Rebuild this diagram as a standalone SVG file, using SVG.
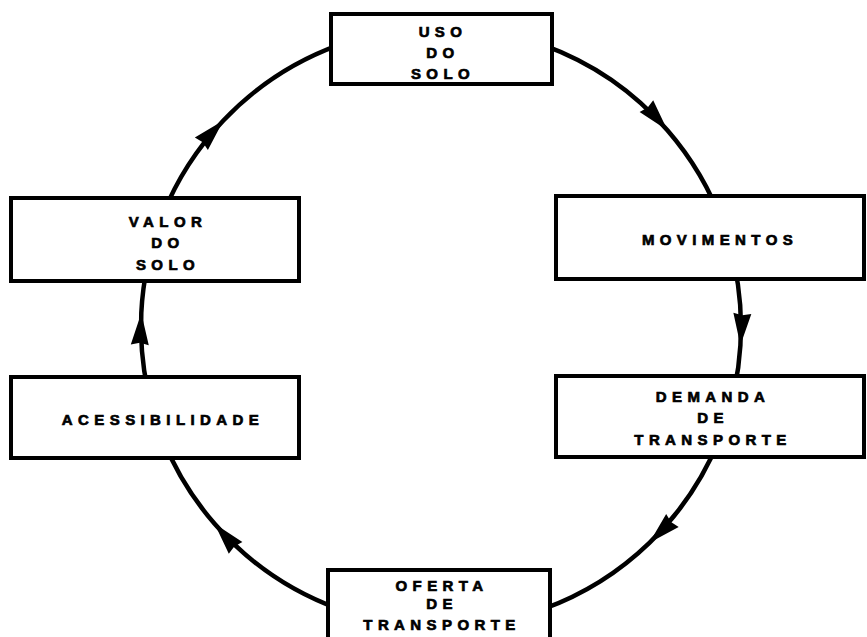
<svg xmlns="http://www.w3.org/2000/svg" width="867" height="637" viewBox="0 0 867 637">
<style>
.box{fill:#fff;stroke:#000;stroke-width:4}
.lbl{font-family:"Liberation Sans",Arial,sans-serif;font-weight:bold;font-size:15px;letter-spacing:5.4px;text-anchor:middle;fill:#000;stroke:#000;stroke-width:0.7}
.con{fill:none;stroke:#000;stroke-width:4.5;marker-mid:url(#ah)}
</style>
<defs>
<marker id="ah" markerUnits="userSpaceOnUse" markerWidth="40" markerHeight="20" viewBox="-36 -10 40 20" refX="0" refY="0" orient="auto">
<path d="M0,0 L-32,-9 L-30,0 L-32,9 Z" fill="#000"/>
</marker>
</defs>
<rect width="867" height="637" fill="#fff"/>
<g id="connectors">
<path class="con" d="M543.6,45.1 A300,300 0 0 1 667.4,130.2 A300,300 0 0 1 722.9,224.4"/>
<path class="con" d="M734.4,264.6 A300,300 0 0 1 740.4,345.3 A300,300 0 0 1 734.4,389.4"/>
<path class="con" d="M719.2,439.4 A300,300 0 0 1 649.4,542.8 A300,300 0 0 1 543.6,608.9"/>
<path class="con" d="M338.4,608.9 A300,300 0 0 1 214.6,523.8 A300,300 0 0 1 162.8,439.4"/>
<path class="con" d="M147.6,389.4 A300,300 0 0 1 141.3,312.9 A300,300 0 0 1 147.6,264.6"/>
<path class="con" d="M162.8,214.6 A300,300 0 0 1 223.4,120.5 A300,300 0 0 1 338.4,45.1"/>
</g>
<g id="uso">
<rect class="box" x="331" y="14" width="221" height="70"/>
<text class="lbl" x="443" y="37">USO</text>
<text class="lbl" x="443" y="58">DO</text>
<text class="lbl" x="443" y="79">SOLO</text>
</g>
<g id="movimentos">
<rect class="box" x="556" y="196" width="308" height="83"/>
<text class="lbl" x="720" y="245">MOVIMENTOS</text>
</g>
<g id="demanda">
<rect class="box" x="556" y="376" width="308" height="81"/>
<text class="lbl" x="713" y="402">DEMANDA</text>
<text class="lbl" x="713" y="423">DE</text>
<text class="lbl" x="713" y="445">TRANSPORTE</text>
</g>
<g id="oferta">
<rect class="box" x="328" y="570" width="222" height="80"/>
<text class="lbl" x="442" y="591">OFERTA</text>
<text class="lbl" x="442" y="609">DE</text>
<text class="lbl" x="442" y="630">TRANSPORTE</text>
</g>
<g id="acessibilidade">
<rect class="box" x="11" y="377" width="288" height="81"/>
<text class="lbl" x="163" y="425">ACESSIBILIDADE</text>
</g>
<g id="valor">
<rect class="box" x="11" y="198" width="288" height="83"/>
<text class="lbl" x="168" y="227">VALOR</text>
<text class="lbl" x="168" y="248">DO</text>
<text class="lbl" x="168" y="270">SOLO</text>
</g>
</svg>
